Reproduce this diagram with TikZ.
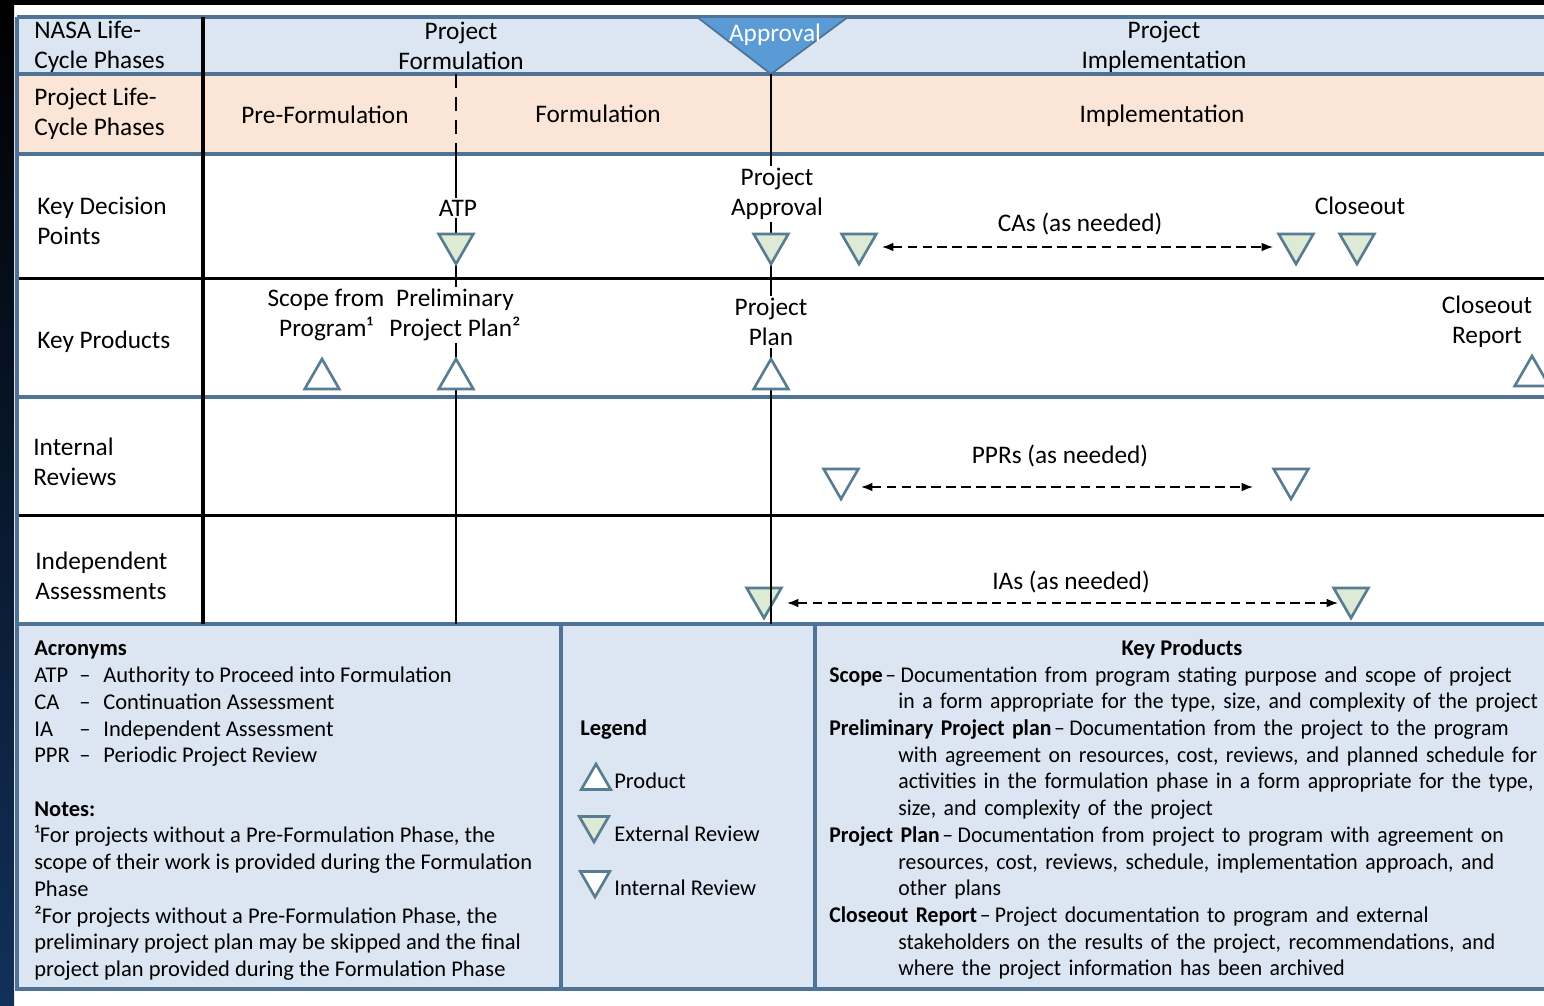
\documentclass[tikz,border=0pt]{standalone}
\usepackage{fontspec}
\setmainfont{Carlito}
\newfontfamily\kpfont[Ligatures=TeX,FakeStretch=0.965,WordSpace=0.9]{Carlito}
\usetikzlibrary{shapes.geometric,arrows.meta}

\definecolor{rowblue}{HTML}{DCE6F2}
\definecolor{rowpeach}{HTML}{FBE5D6}
\definecolor{edgeblue}{HTML}{4F7396}
\definecolor{apprblue}{HTML}{5B9BD5}
\definecolor{trigreen}{HTML}{DDEBD6}
\definecolor{triedge}{HTML}{587C91}
\definecolor{leftnavy}{HTML}{12305A}

\newcommand{\acr}[1]{\makebox[25.6pt][l]{#1}\makebox[13.7pt][l]{--}}
\newcommand{\kpitem}[1]{\par\hangindent=39.3pt\hangafter=1\noindent\textbf{#1}\hspace{1.5pt}--\hspace{2.5pt}}

\tikzset{
  bigtxt/.style={font=\fontsize{14.4}{17.1}\selectfont, inner sep=0pt, align=center},
  rowlbl/.style={bigtxt, align=left, anchor=west},
  smalltxt/.style={font=\fontsize{12.8}{15.2}\selectfont, inner sep=0pt, align=left},
  onwhite/.style={fill=white, inner sep=1pt},
  blueline/.style={edgeblue, line width=2pt},
  blackline/.style={black, line width=1.7pt},
  phaseline/.style={black, line width=1.1pt},
  tridown/.style={regular polygon, regular polygon sides=3, shape border rotate=180,
    draw=triedge, line width=1.5pt, inner sep=0pt, minimum size=0.8cm},
  extrev/.style={tridown, fill=trigreen},
  intrev/.style={tridown, fill=white},
  product/.style={regular polygon, regular polygon sides=3, draw=triedge,
    line width=1.5pt, fill=white, inner sep=0pt, minimum size=0.8cm},
  dasharrow/.style={densely dashed, dash pattern=on 5.5pt off 3pt, line width=0.9pt,
    {Latex[length=6.5pt,width=5pt]}-{Latex[length=6.5pt,width=5pt]}},
  boxstyle/.style={draw=edgeblue, line width=2pt, fill=rowblue}
}

\begin{document}
\begin{tikzpicture}[x=0.02cm,y=-0.02cm]
  \clip (0,0) rectangle (1544,1005);
  \fill[white] (0,0) rectangle (1544,1005);
  \shade[top color=black, bottom color=leftnavy] (0,0) rectangle (14,1005);
  \fill[black] (0,0) rectangle (1544,5);

  \fill[rowblue] (17,17) rectangle (1544,74);
  \fill[rowpeach] (17,74) rectangle (1544,154);

  \draw[boxstyle] (17,624) rectangle (561,989);
  \draw[boxstyle] (561,624) rectangle (815,989);
  \draw[boxstyle] (815,624) rectangle (1560,989);

  \draw[blueline] (17,17) -- (1544,17);
  \draw[blueline] (17,74) -- (1544,74);
  \draw[blueline] (17,154) -- (1544,154);
  \draw[blueline] (17,397) -- (1544,397);
  \draw[blackline] (17,278) -- (1544,278);
  \draw[blackline] (17,515) -- (1544,515);
  \draw[blueline] (17,17) -- (17,624);
  \draw[black, line width=2pt] (203,17) -- (203,624);

  \filldraw[fill=apprblue, draw=edgeblue, line width=1pt] (697,17) -- (848,17) -- (771,74) -- cycle;
  \coordinate (apprtip) at (771,74);
  \coordinate (atpdash) at (456,74);
  \coordinate (atprow) at (456,154);
  \coordinate (atpend) at (456,624);
  \coordinate (aprend) at (771,624);

  \node[extrev] (ia1) at (764,598) {};
  \node[extrev] (ia2) at (1351,598) {};

  \draw[phaseline, dash pattern=on 8pt off 5pt] (atpdash) -- (atprow);
  \draw[phaseline] (atprow) -- (atpend);
  \draw[phaseline] (apprtip) -- (aprend);

  % phases
  \node[bigtxt, text=white] (appr) at (775,35) {Approval};
  \node[rowlbl] (nasa) at (34,47) {NASA Life-\\Cycle Phases};
  \node[bigtxt] (pform) at (461,46) {Project\\Formulation};
  \node[bigtxt] (pimpl) at (1164,47) {Project\\Implementation};
  \node[rowlbl] (plcp) at (34,114) {Project Life-\\Cycle Phases};
  \node[bigtxt] (prefm) at (325,115) {Pre-Formulation};
  \node[bigtxt] (form) at (598,114) {Formulation};
  \node[bigtxt] (impl) at (1162,116) {Implementation};

  % key decision points
  \node[rowlbl] (kdp) at (37,221) {Key Decision\\Points};
  \node[bigtxt, onwhite] (atp) at (458,208) {ATP};
  \node[bigtxt, onwhite] (papr) at (777,194) {Project\\Approval};
  \node[bigtxt] (cas) at (1080,224) {CAs (as needed)};
  \node[bigtxt] (clo) at (1360,206) {Closeout};
  \node[extrev] (atpkdp) at (456,244) {};
  \node[extrev] (aprkdp) at (771,244) {};
  \node[extrev] (ca1) at (859,244) {};
  \node[extrev] (ca2) at (1296,244) {};
  \node[extrev] (clokdp) at (1357,244) {};
  \draw[dasharrow, shorten <=0.46cm, shorten >=0.46cm]
    ([yshift=-0.06cm]ca1.center) -- ([yshift=-0.06cm]ca2.center);

  % key products
  \node[rowlbl] (kprod) at (37,342) {Key Products};
  \node[bigtxt] (scope) at (326,315) {Scope from\\Program¹};
  \node[bigtxt, onwhite] (prelim) at (455,315) {Preliminary\\Project Plan²};
  \node[bigtxt, onwhite] (pplan) at (771,322) {Project\\Plan};
  \node[bigtxt] (crep) at (1487,322) {Closeout\\Report};
  \node[product] (scopetri) at (322,379) {};
  \node[product] (prelimtri) at (456,379) {};
  \node[product] (pplantri) at (771,379) {};
  \node[product] (creptri) at (1532,376) {};

  % internal reviews
  \node[rowlbl] (intr) at (33,462) {Internal\\Reviews};
  \node[bigtxt] (pprs) at (1060,456) {PPRs (as needed)};
  \node[intrev] (ppr1) at (841,479) {};
  \node[intrev] (ppr2) at (1291,479) {};
  \draw[dasharrow, shorten <=0.4cm, shorten >=0.76cm]
    ([yshift=-0.16cm]ppr1.center) -- ([yshift=-0.16cm]ppr2.center);

  % independent assessments
  \node[rowlbl] (inda) at (35,576) {Independent\\Assessments};
  \node[bigtxt] (ias) at (1071,582) {IAs (as needed)};
  \draw[dasharrow, shorten <=0.46cm, shorten >=0.26cm]
    ([yshift=-0.1cm]ia1.center) -- ([yshift=-0.1cm]ia2.center);

  % acronyms and notes
  \node[smalltxt, anchor=north west] (notes) at (34,641) {%
    \textbf{Acronyms}\\
    \acr{ATP}Authority to Proceed into Formulation\\
    \acr{CA}Continuation Assessment\\
    \acr{IA}Independent Assessment\\
    \acr{PPR}Periodic Project Review\\[15.2pt]
    \textbf{Notes:}\\
    ¹For projects without a Pre-Formulation Phase, the\\
    scope of their work is provided during the Formulation\\
    Phase\\
    ²For projects without a Pre-Formulation Phase, the\\
    preliminary project plan may be skipped and the final\\
    project plan provided during the Formulation Phase};

  % legend
  \node[smalltxt, anchor=west] (legend) at (580,729) {\textbf{Legend}};
  \node[product, minimum size=0.68cm] (lgprod) at (596,781) {};
  \node[extrev, minimum size=0.68cm] (lgext) at (594,825) {};
  \node[intrev, minimum size=0.68cm] (lgint) at (595,880) {};
  \node[smalltxt, anchor=west] (lgprodtxt) at (614,781) {Product};
  \node[smalltxt, anchor=west] (lgexttxt) at (614,834) {External Review};
  \node[smalltxt, anchor=west] (lginttxt) at (614,888) {Internal Review};

  % key products text
  \node[smalltxt] (kptitle) at (1182,649) {\textbf{Key Products}};
  \node[smalltxt, font=\kpfont\fontsize{12.8}{15.2}\selectfont, text width=420pt,
    anchor=north west] (kptext) at (829,655) {%
    \kpitem{Scope}Documentation from program stating purpose and scope of project\newline
    in a form appropriate for the type, size, and complexity of the project
    \kpitem{Preliminary Project plan}Documentation from the project to the program\newline
    with agreement on resources, cost, reviews, and planned schedule for\newline
    activities in the formulation phase in a form appropriate for the type,\newline
    size, and complexity of the project
    \kpitem{Project Plan}Documentation from project to program with agreement on\newline
    resources, cost, reviews, schedule, implementation approach, and\newline
    other plans
    \kpitem{Closeout Report}Project documentation to program and external\newline
    stakeholders on the results of the project, recommendations, and\newline
    where the project information has been archived\par};
\end{tikzpicture}
\end{document}
